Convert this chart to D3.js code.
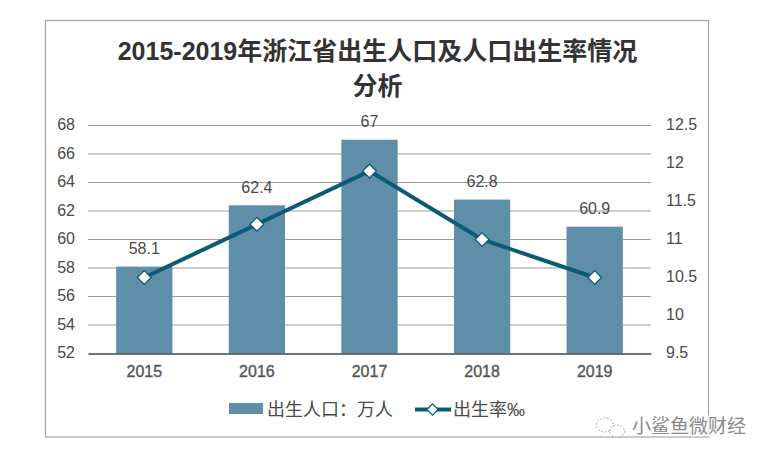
<!DOCTYPE html>
<html>
<head>
<meta charset="utf-8">
<script src="https://cdn.jsdelivr.net/npm/d3@7"></script>
<style>
html, body { margin: 0; padding: 0; background: #fff; }
svg { display: block; }
text { font-family: "Liberation Sans", "Noto Sans CJK SC", sans-serif; }
</style>
</head>
<body>
<div id="chart"></div>
<script>
// Values
var years = ['2015', '2016', '2017', '2018', '2019'];
var births = [58.1, 62.4, 67, 62.8, 60.9];
var rates = [10.5, 11.2, 11.9, 11.0, 10.5];
var leftTicks = [52, 54, 56, 58, 60, 62, 64, 66, 68];
var rightTicks = [9.5, 10, 10.5, 11, 11.5, 12, 12.5];
var titleLines = ['2015-2019年浙江省出生人口及人口出生率情况', '分析'];
var barName = '出生人口：万人';
var lineName = '出生率‰';
var watermark = '小鲨鱼微财经';

var width = 770, height = 459;
var barCol = '#5f8fa8', lineCol = '#0c5a73', textCol = '#4a4a4a';

var svg = d3.select('#chart').append('svg')
    .attr('width', width)
    .attr('height', height);

// Outer frame
svg.append('rect')
    .attr('x', 45.5).attr('y', 20.5)
    .attr('width', 663).attr('height', 416.5)
    .attr('fill', '#fff')
    .attr('stroke', '#a6a6a6')
    .attr('stroke-width', 1.2);

var plot = {left: 88, right: 651, top: 125.5, bottom: 353.5};

var x = d3.scaleBand().domain(years).range([plot.left, plot.right]).paddingInner(0.5).paddingOuter(0.25);
var yL = d3.scaleLinear().domain([52, 68]).range([plot.bottom, plot.top]);
var yR = d3.scaleLinear().domain([9.5, 12.5]).range([plot.bottom, plot.top]);

// Title
svg.append('text')
    .attr('text-anchor', 'middle')
    .attr('fill', '#333')
    .attr('font-size', 25)
    .attr('font-weight', 'bold')
    .selectAll('tspan')
    .data(titleLines)
    .enter()
    .append('tspan')
    .attr('x', 377.5)
    .attr('y', function(d, i) { return 60 + i * 35; })
    .text(function(d) { return d; });

// Gridlines
svg.selectAll('.grid')
    .data(leftTicks.slice(1))
    .enter()
    .append('line')
    .attr('class', 'grid')
    .attr('x1', plot.left).attr('x2', plot.right)
    .attr('y1', function(d) { return yL(d); })
    .attr('y2', function(d) { return yL(d); })
    .attr('stroke', '#9e9e9e')
    .attr('stroke-width', 1.2);

// Left axis
var leftAxis = svg.append('g')
    .attr('transform', 'translate(' + plot.left + ',-1)')
    .call(d3.axisLeft(yL).tickValues(leftTicks).tickSize(0).tickPadding(13));
leftAxis.select('.domain').remove();
leftAxis.selectAll('text').attr('font-size', 16).attr('fill', textCol).attr('font-family', null);

// Right axis
var rightAxis = svg.append('g')
    .attr('transform', 'translate(' + plot.right + ',-1)')
    .call(d3.axisRight(yR).tickValues(rightTicks).tickSize(0).tickPadding(15).tickFormat(d3.format('')));
rightAxis.select('.domain').remove();
rightAxis.selectAll('text').attr('font-size', 16).attr('fill', textCol).attr('font-family', null);

// Bars
svg.selectAll('.bar')
    .data(births)
    .enter()
    .append('rect')
    .attr('class', 'bar')
    .attr('x', function(d, i) { return x(years[i]); })
    .attr('y', function(d) { return yL(d); })
    .attr('width', x.bandwidth())
    .attr('height', function(d) { return plot.bottom - yL(d); })
    .attr('fill', barCol);

// Bottom axis
var bottomAxis = svg.append('g')
    .attr('transform', 'translate(0,' + plot.bottom + ')')
    .call(d3.axisBottom(x).tickSize(0).tickPadding(12));
bottomAxis.select('.domain')
    .attr('stroke', '#444')
    .attr('stroke-width', 1.3);
bottomAxis.selectAll('text')
    .attr('font-size', 16)
    .attr('fill', '#555')
    .attr('stroke', '#555')
    .attr('stroke-width', 0.35)
    .attr('font-family', null);

// Bar value labels
svg.selectAll('.val')
    .data(births)
    .enter()
    .append('text')
    .attr('class', 'val')
    .attr('x', function(d, i) { return x(years[i]) + x.bandwidth() / 2; })
    .attr('y', function(d) { return yL(d) - 12.5; })
    .attr('text-anchor', 'middle')
    .attr('font-size', 16)
    .attr('fill', textCol)
    .text(function(d) { return d; });

// Rate line
var line = d3.line()
    .x(function(d, i) { return x(years[i]) + x.bandwidth() / 2; })
    .y(function(d) { return yR(d); });

svg.append('path')
    .attr('d', line(rates))
    .attr('fill', 'none')
    .attr('stroke', lineCol)
    .attr('stroke-width', 4);

svg.selectAll('.pt')
    .data(rates)
    .enter()
    .append('path')
    .attr('class', 'pt')
    .attr('transform', function(d, i) {
        return 'translate(' + (x(years[i]) + x.bandwidth() / 2) + ',' + yR(d) + ') rotate(45)';
    })
    .attr('d', d3.symbol(d3.symbolSquare, 95)())
    .attr('fill', '#fff')
    .attr('stroke', lineCol)
    .attr('stroke-width', 1.3);

// Legend
var legend = svg.append('g');
legend.append('rect')
    .attr('x', 229).attr('y', 403)
    .attr('width', 34).attr('height', 11)
    .attr('fill', barCol);
legend.append('text')
    .attr('x', 267).attr('y', 416)
    .attr('font-size', 18)
    .attr('fill', textCol)
    .text(barName);
legend.append('line')
    .attr('x1', 415).attr('x2', 451)
    .attr('y1', 409.5).attr('y2', 409.5)
    .attr('stroke', lineCol)
    .attr('stroke-width', 4);
legend.append('path')
    .attr('transform', 'translate(432.5,409.5) rotate(45)')
    .attr('d', d3.symbol(d3.symbolSquare, 65)())
    .attr('fill', '#fff')
    .attr('stroke', lineCol)
    .attr('stroke-width', 1.3);
legend.append('text')
    .attr('x', 453).attr('y', 416)
    .attr('font-size', 18)
    .attr('fill', textCol)
    .text(lineName);

// Watermark, pale text with a white halo over the frame
var wm = svg.append('g');
wm.append('text')
    .attr('x', 632).attr('y', 433)
    .attr('font-size', 19)
    .attr('fill', '#8a8a8a')
    .attr('stroke', '#fff')
    .attr('stroke-width', 3)
    .attr('paint-order', 'stroke')
    .text(watermark);
wm.append('ellipse')
    .attr('cx', 605).attr('cy', 425).attr('rx', 8.5).attr('ry', 7)
    .attr('fill', '#fff')
    .attr('stroke', '#a8a8a8')
    .attr('stroke-dasharray', '2 1.5');
wm.append('ellipse')
    .attr('cx', 617).attr('cy', 431).attr('rx', 7.5).attr('ry', 6)
    .attr('fill', '#fff')
    .attr('stroke', '#a8a8a8')
    .attr('stroke-dasharray', '2 1.5');
</script>
</body>
</html>
